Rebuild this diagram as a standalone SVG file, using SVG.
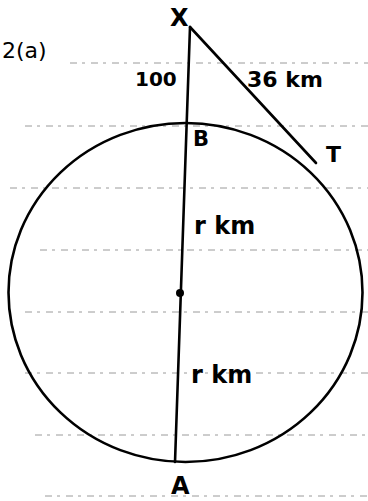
<svg xmlns="http://www.w3.org/2000/svg" width="368" height="501" viewBox="0 0 368 501">
<style>
.rule{stroke:#9a9a9a;stroke-width:1;stroke-dasharray:7 5 3 6;fill:none}
.ink{stroke:#000;stroke-width:2.6;fill:none;stroke-linecap:round}
.lbl{font-family:"DejaVu Sans","Liberation Sans",sans-serif;fill:#000}
</style>
<rect width="368" height="501" fill="#fff"/>
<g id="ruled-lines">
<line class="rule" x1="70" y1="63" x2="368" y2="63"/>
<line class="rule" x1="25" y1="126" x2="368" y2="126"/>
<line class="rule" x1="10" y1="188" x2="368" y2="188"/>
<line class="rule" x1="40" y1="250" x2="368" y2="250"/>
<line class="rule" x1="25" y1="312" x2="368" y2="312"/>
<line class="rule" x1="25" y1="373" x2="368" y2="373"/>
<line class="rule" x1="35" y1="435" x2="368" y2="435"/>
<line class="rule" x1="45" y1="496" x2="368" y2="496"/>
</g>
<g id="circle">
<ellipse class="ink" cx="185.5" cy="292.5" rx="177" ry="169.5"/>
</g>
<g id="connectors">
<line class="ink" x1="190" y1="27" x2="175" y2="462"/>
<line class="ink" x1="190" y1="27" x2="316" y2="163"/>
</g>
<g id="title"><text class="lbl" x="2" y="58" font-size="22">2(a)</text></g>
<g id="node-X"><text class="lbl" x="170" y="26" font-size="24" font-weight="bold">X</text></g>
<g id="node-B"><text class="lbl" x="193" y="146" font-size="21" font-weight="bold">B</text></g>
<g id="node-T"><text class="lbl" x="326" y="162" font-size="22" font-weight="bold">T</text></g>
<g id="node-O"><circle cx="180" cy="293" r="4" fill="#000"/></g>
<g id="node-A"><text class="lbl" x="171" y="494" font-size="24" font-weight="bold">A</text></g>
<g id="labels">
<text class="lbl" x="135" y="86" font-size="20" font-weight="bold">100</text>
<text class="lbl" x="247" y="87" font-size="22" font-weight="bold">36 km</text>
<text class="lbl" x="194" y="234" font-size="24" font-weight="bold">r km</text>
<text class="lbl" x="191" y="383" font-size="24" font-weight="bold">r km</text>
</g>
</svg>
